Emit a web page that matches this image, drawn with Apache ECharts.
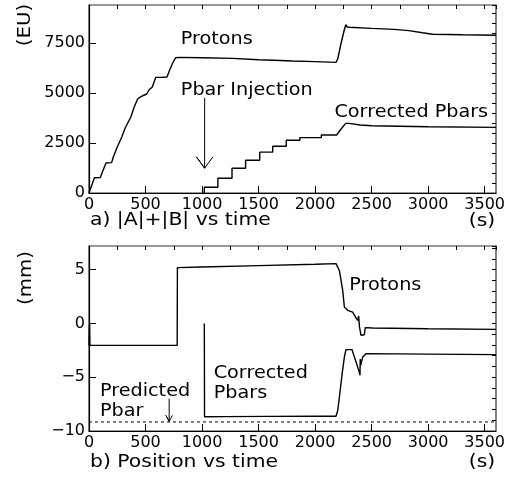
<!DOCTYPE html>
<html><head><meta charset="utf-8">
<script src="https://cdn.jsdelivr.net/npm/echarts@6/dist/echarts.min.js"></script>
<style>html,body{margin:0;padding:0;background:#fff}#c{width:510px;height:477px}</style>
</head><body><div id="c"></div>
<script>
// ---- axis ranges / ticks ----
const X_MIN = 0, X_MAX = 3600;
const xTickLabels = [0, 500, 1000, 1500, 2000, 2500, 3000, 3500];
const topYTickLabels = [0, 2500, 5000, 7500];
const botYTickLabels = [-10, -5, 0, 5];
const TOP_Y_MAX = 9400;
const BOT_Y_MIN = -10, BOT_Y_MAX = 7.2;

// ---- panel a) |A|+|B| vs time ----
const topProtonsT = [0, 8, 30, 48, 100, 115, 150, 200, 215, 250, 265, 290, 320, 335, 370, 400, 430, 450, 470, 480, 510, 530, 560, 590, 650, 690, 710, 740, 765, 800, 1000, 1270, 1500, 1640, 1645, 1650, 1800, 2000, 2185, 2200, 2230, 2260, 2272, 2282, 2300, 2500, 2700, 2830, 2950, 3040, 3300, 3600];
const topProtonsV = [0, 60, 480, 760, 770, 1000, 1500, 1520, 1800, 2300, 2350, 2800, 3250, 3300, 3800, 4300, 4700, 4780, 4850, 4900, 4950, 5150, 5300, 5780, 5790, 5800, 6100, 6500, 6760, 6780, 6760, 6730, 6660, 6640, 6720, 6630, 6600, 6570, 6530, 6700, 7500, 8200, 8420, 8300, 8290, 8230, 8180, 8120, 8010, 7940, 7910, 7890];
const topPbarsT = [1020, 1020, 1140, 1140, 1265, 1265, 1385, 1385, 1510, 1510, 1625, 1625, 1745, 1745, 1865, 1865, 2055, 2055, 2190, 2230, 2270, 2300, 2400, 2500, 3000, 3600];
const topPbarsV = [0, 286, 286, 738, 738, 1240, 1240, 1640, 1640, 2043, 2043, 2340, 2340, 2640, 2640, 2770, 2770, 2900, 2900, 3200, 3480, 3480, 3400, 3360, 3310, 3280];
// injection arrow (t, value)
const injArrowT = [1023, 1023, 950, 1023, 1096];
const injArrowV = [4754, 1240, 1807, 1240, 1807];

// ---- panel b) Position vs time ----
const botProtonsT = [0, 5, 8, 780, 782, 1000, 1500, 2000, 2185, 2200, 2215, 2244, 2259, 2275, 2288, 2332, 2360, 2376, 2385, 2392, 2406, 2435, 2444, 2509, 3000, 3600];
const botProtonsV = [-2.04, 0, -2.04, -2.04, 5.19, 5.25, 5.38, 5.5, 5.56, 5.4, 4.9, 3.08, 1.52, 1.35, 1.22, 1.06, 0.55, 0.29, 0.7, -0.3, -1.1, -1.05, -0.39, -0.43, -0.5, -0.55];
const botPbarsT = [1020, 1022, 1200, 1600, 2000, 2185, 2200, 2215, 2240, 2259, 2273, 2326, 2338, 2362, 2390, 2397, 2399, 2403, 2421, 2435, 2450, 3000, 3600];
const botPbarsV = [0, -8.68, -8.66, -8.64, -8.63, -8.63, -8.1, -6.84, -4.6, -3.12, -2.43, -2.43, -2.81, -3.59, -4.5, -4.82, -3.3, -3.9, -3.12, -2.96, -2.81, -2.85, -2.9];
const predictedT = [0, 3600];
const predictedV = [-9.16, -9.16];
const predArrowT = [709, 709, 680, 709, 738];
const predArrowV = [-6.99, -9.1, -8.55, -9.1, -8.55];

const FONT = '"DejaVu Sans", sans-serif';
const zip = (a, b) => a.map((t, i) => [t, b[i]]);
const minus = v => String(v).replace('-', '\u2212');

function majorX(grid) {
  return { gridIndex: grid, type: 'value', min: X_MIN, max: X_MAX, interval: 500,
    axisLine: { show: true, onZero: false, lineStyle: { color: '#000', width: 1.2 } },
    axisTick: { show: true, inside: true, length: 7, lineStyle: { color: '#000' } },
    axisLabel: { show: true, fontFamily: FONT, fontSize: 16, color: '#000', margin: 4, showMaxLabel: false,
      formatter: v => xTickLabels.includes(v) ? String(v) : '' },
    splitLine: { show: false } };
}
function minorX(grid) {
  return { gridIndex: grid, type: 'value', min: X_MIN, max: X_MAX, interval: 250,
    axisLine: { show: false, onZero: false }, axisTick: { show: true, inside: true, length: 4, lineStyle: { color: '#000' } },
    axisLabel: { show: false }, splitLine: { show: false } };
}
function majorY(grid, min, max, interval, labels) {
  return { gridIndex: grid, type: 'value', min, max, interval,
    axisLine: { show: true, onZero: false, lineStyle: { color: '#000', width: 1.2 } },
    axisTick: { show: true, inside: true, length: 7, lineStyle: { color: '#000' } },
    axisLabel: { show: true, fontFamily: FONT, fontSize: 16, color: '#000', margin: 4, showMaxLabel: false,
      formatter: v => labels.includes(v) ? minus(v) : '' },
    splitLine: { show: false } };
}
function minorY(grid, min, max, interval) {
  return { gridIndex: grid, type: 'value', min, max, interval,
    axisLine: { show: false, onZero: false }, axisTick: { show: true, inside: true, length: 4, lineStyle: { color: '#000' } },
    axisLabel: { show: false }, splitLine: { show: false } };
}
function line(xi, yi, data, extra) {
  return Object.assign({ type: 'line', xAxisIndex: xi, yAxisIndex: yi, data, showSymbol: false, symbol: 'none',
    silent: true, lineStyle: { color: '#000', width: 1.4 } }, extra || {});
}

const chart = echarts.init(document.getElementById('c'), null, { renderer: 'canvas' });
chart.setOption({
  animation: false,
  backgroundColor: '#fff',
  grid: [
    { left: 89, right: 14, top: 5, bottom: 284, show: true, borderColor: '#333', borderWidth: 1.2, backgroundColor: 'transparent' },
    { left: 89, right: 14, top: 246, bottom: 46, show: true, borderColor: '#333', borderWidth: 1.2, backgroundColor: 'transparent' }
  ],
  xAxis: [majorX(0), minorX(0), majorX(1), minorX(1)],
  yAxis: [
    majorY(0, 0, TOP_Y_MAX, 2500, topYTickLabels), minorY(0, 0, TOP_Y_MAX, 500),
    majorY(1, BOT_Y_MIN, BOT_Y_MAX, 5, botYTickLabels), minorY(1, BOT_Y_MIN, BOT_Y_MAX, 1)
  ],
  series: [
    line(0, 0, zip(topProtonsT, topProtonsV)),
    line(0, 0, zip(topPbarsT, topPbarsV)),
    line(0, 0, zip(injArrowT, injArrowV), { lineStyle: { color: '#000', width: 1 } }),
    line(2, 2, zip(botProtonsT, botProtonsV)),
    line(2, 2, zip(botPbarsT, botPbarsV)),
    line(2, 2, zip(predictedT, predictedV), { lineStyle: { color: '#000', width: 1, type: [3, 3] } }),
    line(2, 2, zip(predArrowT, predArrowV), { lineStyle: { color: '#000', width: 1 } })
  ]
});

// text annotations anchored in data space
function txt(text, grid, t, v, size, sx) {
  const p = chart.convertToPixel({ xAxisIndex: grid * 2, yAxisIndex: grid * 2 }, [t, v]);
  return { type: 'text', x: p[0], y: p[1], scaleX: sx, originX: 0, originY: 0, silent: true,
    style: { text, x: 0, y: 0, font: size + 'px ' + FONT, fill: '#000', textAlign: 'left', textVerticalAlign: 'middle' } };
}
function pxText(text, x, y, size, sx, rot, align) {
  return { type: 'text', x, y, scaleX: sx, rotation: rot || 0, originX: 0, originY: 0, silent: true,
    style: { text, x: 0, y: 0, font: size + 'px ' + FONT, fill: '#000', textAlign: align || 'left', textVerticalAlign: 'middle' } };
}
chart.setOption({ graphic: [
  txt('Protons', 0, 812, 7666, 17, 1.13),
  txt('Pbar Injection', 0, 812, 5100, 17, 1.13),
  txt('Corrected Pbars', 0, 2171, 4000, 17, 1.13),
  txt('Protons', 1, 2303, 3.54, 17, 1.13),
  txt('Corrected', 1, 1103, -4.64, 17, 1.13),
  txt('Pbars', 1, 1103, -6.55, 17, 1.13),
  txt('Predicted', 1, 97, -6.32, 17, 1.13),
  txt('Pbar', 1, 97, -8.18, 17, 1.13),
  pxText('a) |A|+|B| vs time', 90, 220, 18, 1.13),
  pxText('(s)', 482, 221, 18, 1.13, 0, 'center'),
  pxText('b) Position vs time', 90, 462, 18, 1.13),
  pxText('(s)', 482, 462, 18, 1.13, 0, 'center'),
  pxText('(EU)', 25, 25, 18, 1.1, Math.PI / 2, 'center'),
  pxText('(mm)', 26, 278, 18, 1.1, Math.PI / 2, 'center')
] });
</script></body></html>
